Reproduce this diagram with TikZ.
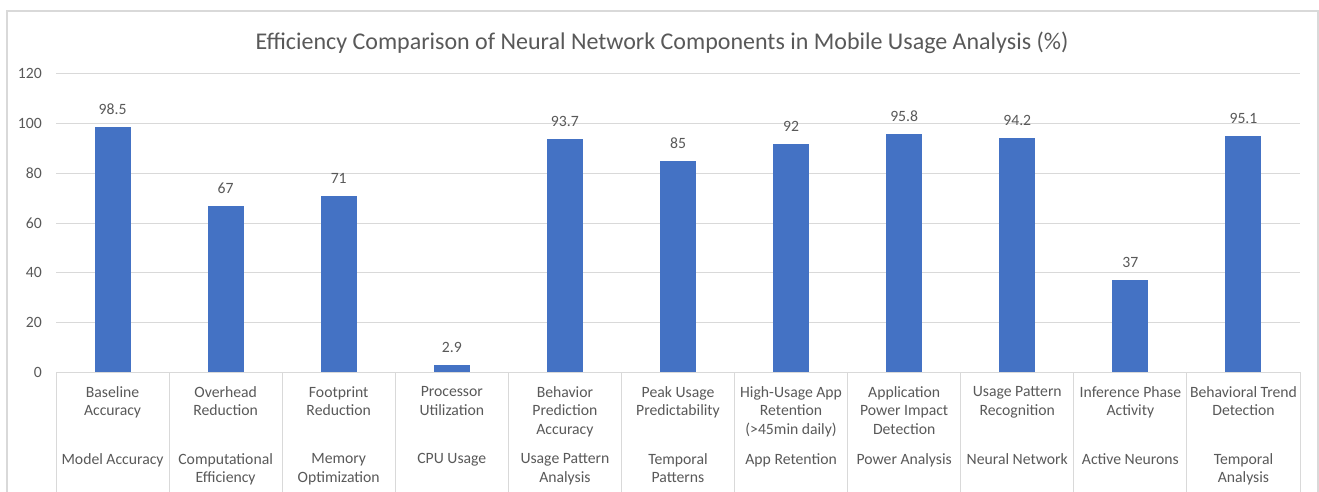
\documentclass[tikz,border=0pt]{standalone}
\usepackage{fontspec}
\setmainfont{Carlito}
\definecolor{barblue}{HTML}{4472C4}
\definecolor{txtgray}{HTML}{595959}
\definecolor{gridgray}{HTML}{D9D9D9}
\begin{document}
\begin{tikzpicture}[x=1pt,y=-1pt,
  gridline/.style={draw=gridgray, line width=1pt},
  frameline/.style={draw=gridgray, line width=1.2pt},
  bar/.style={fill=barblue, draw=none},
  ticklbl/.style={text=txtgray, inner sep=0pt, font=\fontsize{15.7}{18.8}\selectfont},
  catlbl/.style={text=txtgray, inner sep=0pt, align=center, anchor=north,
                 font=\fontsize{15.7}{18.8}\selectfont},
  titlelbl/.style={text=txtgray, inner sep=0pt, font=\fontsize{24}{28}\selectfont}]
\useasboundingbox (0,0) rectangle (1319,492);
\fill[white] (0,0) rectangle (1319,492);
% chart frame (open at the bottom)
\draw[frameline] (7,492) -- (7,11) -- (1318,11) -- (1318,492);
% title
\node[titlelbl, anchor=base] (title) at (662,50) {Efficiency Comparison of Neural Network Components in Mobile Usage Analysis (\%)};
% horizontal gridlines and value axis labels
\foreach \k in {0,...,6} {
  \pgfmathsetmacro\yy{372-\k*49.6667}
  \draw[gridline] (56,\yy) -- (1300,\yy);
  \node[ticklbl, anchor=base east] (tick\k) at (42,{\yy+5}) {\the\numexpr\k*20\relax};
}
% category separators
\foreach \j in {0,...,11} {
  \draw[gridline] ({56+\j*113.0909},372) -- ({56+\j*113.0909},492);
}
% bars, data labels and two-level category labels
\foreach \i/\v/\la/\lb in {
  0/98.5/{Baseline\\Accuracy}/{Model Accuracy},
  1/67/{Overhead\\Reduction}/{Computational\\Efficiency},
  2/71/{Footprint\\Reduction}/{Memory\\Optimization},
  3/2.9/{Processor\\Utilization}/{CPU Usage},
  4/93.7/{Behavior\\Prediction\\Accuracy}/{Usage Pattern\\Analysis},
  5/85/{Peak Usage\\Predictability}/{Temporal\\Patterns},
  6/92/{High-Usage App\\Retention\\(>45min daily)}/{App Retention},
  7/95.8/{Application\\Power Impact\\Detection}/{Power Analysis},
  8/94.2/{Usage Pattern\\Recognition}/{Neural Network},
  9/37/{Inference Phase\\Activity}/{Active Neurons},
  10/95.1/{Behavioral Trend\\Detection}/{Temporal\\Analysis}} {
  \pgfmathsetmacro\cx{56+(\i+0.5)*113.0909}
  \pgfmathsetmacro\top{372-\v*2.48333}
  \path[bar] ({\cx-18},372) rectangle ({\cx+18},\top);
  \node[ticklbl, anchor=base] (val\i) at (\cx,{\top-12.4}) {\v};
  \node[catlbl] (cat\i) at (\cx,386) {\la};
  \node[catlbl] (grp\i) at (\cx,453) {\lb};
}
\end{tikzpicture}
\end{document}
